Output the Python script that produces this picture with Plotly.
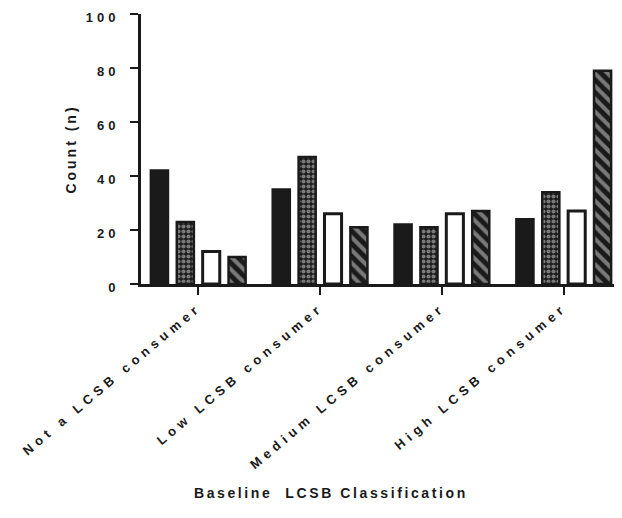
import plotly.graph_objects as go

categories = ["Not a LCSB consumer", "Low LCSB consumer", "Medium LCSB consumer", "High LCSB consumer"]
series_1 = [42, 35, 22, 24]
series_2 = [23, 47, 21, 34]
series_3 = [12, 26, 26, 27]
series_4 = [10, 21, 27, 79]
y_ticks = [0, 20, 40, 60, 80, 100]
x_title = "Baseline  LCSB Classification"
y_title = "Count (n)"

FONT = "Liberation Sans, Arial, sans-serif"
INK = "#1a1a1a"


def spaced(text, px):
    return f'<span style="letter-spacing:{px}px">{text}</span>'


fig = go.Figure()
fig.add_bar(x=categories, y=series_1, name="Series 1",
            marker=dict(color=INK, line=dict(color=INK, width=2.5)))
fig.add_bar(x=categories, y=series_2, name="Series 2",
            marker=dict(color=INK, line=dict(color=INK, width=2.5),
                        pattern=dict(shape=".", fgcolor="#d8d8d8", bgcolor=INK,
                                     size=5, solidity=0.55, fillmode="overlay")))
fig.add_bar(x=categories, y=series_3, name="Series 3",
            marker=dict(color="white", line=dict(color=INK, width=3)))
fig.add_bar(x=categories, y=series_4, name="Series 4",
            marker=dict(color=INK, line=dict(color=INK, width=2.5),
                        pattern=dict(shape="\\", fgcolor="#d8d8d8", bgcolor=INK,
                                     size=9, solidity=0.45, fillmode="overlay")))

fig.update_layout(
    width=622, height=518,
    margin=dict(l=133, r=9, t=6, b=242),
    barmode="group", bargap=0.15, bargroupgap=0.34,
    showlegend=False,
    plot_bgcolor="white", paper_bgcolor="white",
    font=dict(family=FONT, color=INK, size=13, weight="bold"),
    annotations=[dict(
        text=spaced(x_title, 2.6), xref="paper", yref="paper",
        x=0.396, y=-0.774, xanchor="center", yanchor="middle", showarrow=False,
        font=dict(family=FONT, size=14, weight="bold", color=INK),
    )],
)
fig.update_xaxes(
    range=[-0.47, 3.47], showgrid=False, showline=True, linecolor=INK, linewidth=3,
    ticks="outside", ticklen=8, tickwidth=2, tickcolor=INK, tickangle=-40,
    tickvals=categories, ticktext=[spaced(c, 4.8) for c in categories],
    tickfont=dict(family=FONT, size=13, weight="bold"),
    automargin=False,
)
fig.update_yaxes(
    range=[0, 100], tickvals=y_ticks, ticktext=[spaced(str(v), 4) for v in y_ticks],
    showgrid=False, zeroline=False,
    showline=True, linecolor=INK, linewidth=3,
    ticks="outside", ticklen=8, tickwidth=2, tickcolor=INK,
    tickfont=dict(family=FONT, size=13, weight="bold"), ticklabelstandoff=8,
    ticklabeloverflow="allow", ticklabelshift=3,
    title=dict(text=spaced(y_title, 3), font=dict(family=FONT, size=14, weight="bold"), standoff=6),
    automargin=False,
)

fig.write_html("out.html")
